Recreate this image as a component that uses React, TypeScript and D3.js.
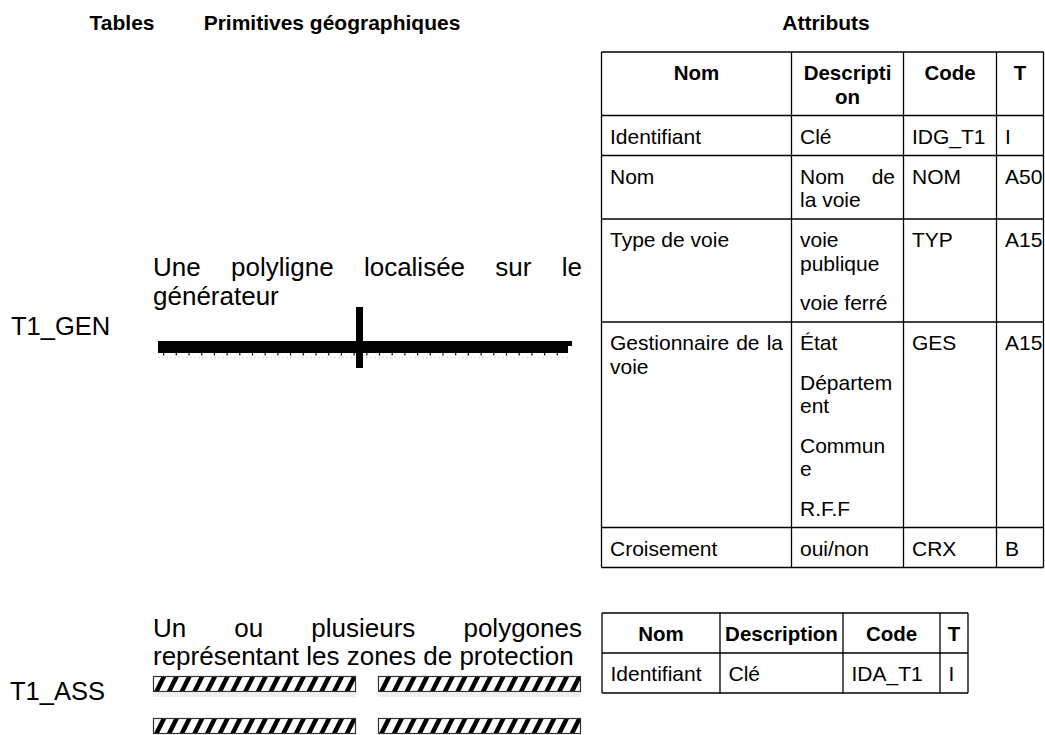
import React, { useRef, useEffect } from "react";
import * as d3 from "d3";

const W = 1045;
const H = 735;
const FONT = "'Liberation Sans', Arial, Helvetica, sans-serif";

// page headings
const headings = ["Tables", "Primitives géographiques", "Attributs"];
const headingX = [122, 332, 826];

// table names and their descriptions
const tableNames = ["T1_GEN", "T1_ASS"];
const primitiveText = [
  "Une polyligne localisée sur le générateur",
  "Un ou plusieurs polygones représentant les zones de protection",
];

// column headers (each header = lines)
const genHeader = [["Nom"], ["Descripti", "on"], ["Code"], ["T"]];
const assHeader = [["Nom"], ["Description"], ["Code"], ["T"]];

// cells = paragraphs = lines
const genRows: string[][][][] = [
  [[["Identifiant"]], [["Clé"]], [["IDG_T1"]], [["I"]]],
  [[["Nom"]], [["Nom de", "la voie"]], [["NOM"]], [["A50"]]],
  [[["Type de voie"]], [["voie", "publique"], ["voie ferré"]], [["TYP"]], [["A15"]]],
  [
    [["Gestionnaire de la", "voie"]],
    [["État"], ["Départem", "ent"], ["Commun", "e"], ["R.F.F"]],
    [["GES"]],
    [["A15"]],
  ],
  [[["Croisement"]], [["oui/non"]], [["CRX"]], [["B"]]],
];
const assRows: string[][][][] = [[[["Identifiant"]], [["Clé"]], [["IDA_T1"]], [["I"]]]];

const genWidths = [190, 112, 93, 47];
const assWidths = [118, 123, 97, 28];

const LINE = 23.5;
const PARA = 16;
const PAD = 8.5;

function wordsLine(g: any, text: string, x: number, y: number, width: number, justify: boolean, size: number, weight = "normal") {
  const words = text.split(" ");
  if (!justify || words.length < 2) {
    g.append("text").attr("x", x).attr("y", y).attr("font-size", size).attr("font-weight", weight).text(text);
    return;
  }
  const nodes = words.map((w) =>
    g.append("text").attr("y", y).attr("font-size", size).attr("font-weight", weight).text(w)
  );
  const lens = nodes.map((n: any) => n.node().getComputedTextLength());
  const gap = (width - d3.sum(lens)) / (words.length - 1);
  let cx = x;
  nodes.forEach((n: any, i: number) => {
    n.attr("x", cx);
    cx += lens[i] + gap;
  });
}

// wrap a paragraph to width, justify every line but the last
function paragraph(g: any, text: string, x: number, y: number, width: number, size: number, lh: number) {
  const probe = g.append("text").attr("font-size", size);
  const words = text.split(" ");
  const lines: string[] = [];
  let cur = "";
  words.forEach((w) => {
    const t = cur ? cur + " " + w : w;
    probe.text(t);
    if (probe.node().getComputedTextLength() > width && cur) {
      lines.push(cur);
      cur = w;
    } else cur = t;
  });
  lines.push(cur);
  probe.remove();
  lines.forEach((l, i) => wordsLine(g, l, x, y + i * lh, width, i < lines.length - 1, size));
  return lines.length;
}

function cellHeight(paras: string[][]) {
  const lines = d3.sum(paras, (p) => p.length);
  return 40 + LINE * (lines - 1) + PARA * (paras.length - 1);
}

function drawTable(svg: any, x0: number, y0: number, widths: number[], header: string[][], rows: string[][][][]) {
  const g = svg.append("g");
  const xs = [x0, ...Array.from(d3.cumsum(widths), (v) => x0 + v)];
  const heights = [
    d3.max(header, (c) => cellHeight([c])) as number,
    ...rows.map((r) => d3.max(r, (c) => cellHeight(c)) as number),
  ];
  const ys = [y0, ...Array.from(d3.cumsum(heights), (v) => y0 + v)];

  // header
  header.forEach((lines, ci) => {
    lines.forEach((l, li) => {
      g.append("text")
        .attr("x", (xs[ci] + xs[ci + 1]) / 2)
        .attr("y", ys[0] + 28 + li * LINE)
        .attr("text-anchor", "middle")
        .attr("font-size", 20.5)
        .attr("font-weight", "bold")
        .text(l);
    });
  });

  rows.forEach((row, ri) => {
    row.forEach((paras, ci) => {
      let y = ys[ri + 1] + 28;
      paras.forEach((lines) => {
        lines.forEach((l, li) => {
          wordsLine(g, l, xs[ci] + PAD, y, widths[ci] - 2 * PAD, li < lines.length - 1, 21);
          y += LINE;
        });
        y += PARA;
      });
    });
  });

  const grid = g.append("g").attr("stroke", "#000").attr("stroke-width", 1.3);
  grid.selectAll("line.h").data(ys).join("line")
    .attr("x1", x0).attr("x2", xs[xs.length - 1]).attr("y1", (d: number) => d).attr("y2", (d: number) => d);
  grid.selectAll("line.v").data(xs).join("line")
    .attr("y1", ys[0]).attr("y2", ys[ys.length - 1]).attr("x1", (d: number) => d).attr("x2", (d: number) => d);
}

export default function App() {
  const ref = useRef<SVGSVGElement>(null);

  useEffect(() => {
    const svg = d3.select(ref.current);
    svg.selectAll("*").remove();
    svg.attr("font-family", FONT).attr("fill", "#000");

    svg.append("rect").attr("width", W).attr("height", H).attr("fill", "#fff");

    headings.forEach((h, i) => {
      svg.append("text").attr("x", headingX[i]).attr("y", 30).attr("text-anchor", "middle")
        .attr("font-size", 21).attr("font-weight", "bold").text(h);
    });

    drawTable(svg, 601.5, 52, genWidths, genHeader, genRows);
    drawTable(svg, 602, 613, assWidths, assHeader, assRows);

    // table names
    svg.append("text").attr("x", 11).attr("y", 335).attr("font-size", 25.5).text(tableNames[0]);
    svg.append("text").attr("x", 10).attr("y", 700).attr("font-size", 25.5).text(tableNames[1]);

    // descriptions
    paragraph(svg, primitiveText[0], 153, 276, 429, 26, 29);
    paragraph(svg, primitiveText[1], 153, 637, 429, 26, 28);

    // polyline on the generator
    const px = d3.scaleLinear().domain([0, 1]).range([158, 572]);
    svg.append("line").attr("x1", px(0)).attr("x2", px(1) - 4).attr("y1", 357.5).attr("y2", 357.5)
      .attr("stroke", "#e4e4e4").attr("stroke-width", 1.5).attr("stroke-dasharray", "2 2");
    svg.append("path")
      .attr("d", `M${px(0)},341 H${px(1)} V346 H${px(1) - 4} V353 H${px(0)} Z`)
      .attr("fill", "#000");
    const ticks = d3.range(px(0) + 5, px(1) - 3, 12.7);
    svg.append("g").selectAll("rect").data(ticks).join("rect")
      .attr("x", (d: number) => d).attr("y", 353).attr("width", 1.2).attr("height", 2.5).attr("fill", "#111");
    svg.append("rect").attr("x", 356).attr("y", 307).attr("width", 7).attr("height", 61).attr("fill", "#000");

    // hatched protection zones
    const bars = [
      { x: 153, y: 676 }, { x: 378, y: 676 },
      { x: 153, y: 718 }, { x: 378, y: 718 },
    ];
    const bw = 203, bh = 16;
    const defs = svg.append("defs");
    bars.forEach((b, i) => {
      defs.append("clipPath").attr("id", "clip" + i)
        .append("rect").attr("x", b.x).attr("y", b.y).attr("width", bw).attr("height", bh);
      if (i < 2) {
        svg.append("rect").attr("x", b.x).attr("y", b.y + bh + 1).attr("width", bw).attr("height", 4)
          .attr("fill", "#efefef");
      }
      const g = svg.append("g").attr("clip-path", `url(#clip${i})`);
      g.append("rect").attr("x", b.x).attr("y", b.y).attr("width", bw).attr("height", bh).attr("fill", "#fff");
      const stripes = d3.range(b.x - 12, b.x + bw + 12, 12.7);
      g.selectAll("path").data(stripes).join("path")
        .attr("d", (s: number) => `M${s},${b.y + bh} L${s + 8},${b.y} L${s + 13},${b.y} L${s + 5},${b.y + bh} Z`)
        .attr("fill", "#000");
      svg.append("rect").attr("x", b.x + 0.5).attr("y", b.y + 0.5).attr("width", bw - 1).attr("height", bh - 1)
        .attr("fill", "none").attr("stroke", "#333").attr("stroke-width", 1.2);
    });
  }, []);

  return <svg ref={ref} width={W} height={H} style={{ position: "absolute", left: 0, top: 0 }} />;
}
